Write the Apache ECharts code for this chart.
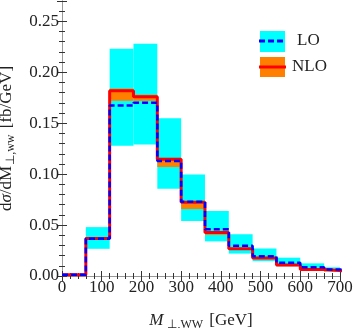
<!DOCTYPE html>
<html>
<head>
<meta charset="utf-8">
<script src="https://cdn.jsdelivr.net/npm/echarts@6/dist/echarts.min.js"></script>
<style>
  html, body { margin: 0; padding: 0; background: #fff; }
  #chart { width: 354px; height: 328px; }
</style>
</head>
<body>
<div id="chart"></div>
<script>
// bin edges (GeV), last bin clipped at 700
var binEdges = [0, 60, 120, 180, 240, 300, 360, 420, 480, 540, 600, 660, 720];
// LO central + scale band
var loCentral = [0.0012, 0.0365, 0.1675, 0.1700, 0.1130, 0.0730, 0.0460, 0.0296, 0.0195, 0.0130, 0.0085, 0.0065];
var loLow     = [0.0008, 0.0267, 0.1280, 0.1290, 0.0856, 0.0540, 0.0340, 0.0220, 0.0146, 0.0095, 0.0062, 0.0045];
var loHigh    = [0.0018, 0.0480, 0.2230, 0.2280, 0.1550, 0.0996, 0.0638, 0.0410, 0.0270, 0.0180, 0.0124, 0.0085];
// NLO central + scale band
var nloCentral = [0.0012, 0.0368, 0.1820, 0.1760, 0.1146, 0.0723, 0.0427, 0.0267, 0.0176, 0.0107, 0.0065, 0.0046];
var nloLow     = [0.0008, 0.0355, 0.1720, 0.1720, 0.1070, 0.0657, 0.0405, 0.0255, 0.0168, 0.0102, 0.0060, 0.0042];
var nloHigh    = [0.0015, 0.0375, 0.1840, 0.1780, 0.1160, 0.0735, 0.0435, 0.0272, 0.0180, 0.0110, 0.0068, 0.0049];

var yTicks = ['0.00', '0.05', '0.10', '0.15', '0.20', '0.25'];

function bandData(lo, hi) {
  var out = [];
  for (var i = 0; i < lo.length; i++) {
    out.push([binEdges[i], binEdges[i + 1], lo[i], hi[i]]);
  }
  return out;
}
function stepData(vals) {
  var out = [];
  for (var i = 0; i < vals.length; i++) out.push([binEdges[i], vals[i]]);
  out.push([binEdges[vals.length], vals[vals.length - 1]]);
  return out;
}
function bandSeries(name, color, lo, hi) {
  return {
    name: name,
    type: 'custom',
    clip: true,
    silent: true,
    data: bandData(lo, hi),
    renderItem: function (params, api) {
      var p0 = api.coord([api.value(0), api.value(3)]);
      var p1 = api.coord([api.value(1), api.value(2)]);
      return {
        type: 'rect',
        shape: { x: p0[0], y: p0[1], width: p1[0] - p0[0], height: p1[1] - p0[1] },
        style: { fill: color }
      };
    }
  };
}

var font = 'Liberation Serif';
var tickColor = '#333';
var frameColor = '#999';

var chart = echarts.init(document.getElementById('chart'));
chart.setOption({
  animation: false,
  grid: { left: 62, right: 14, top: 1, bottom: 52, containLabel: false, outerBoundsMode: 'none' },
  xAxis: [{
    type: 'value', min: 0, max: 700, interval: 100,
    name: '{i|M}{s|⊥,WW} [GeV]',
    nameLocation: 'middle', nameGap: 35,
    nameTextStyle: {
      fontFamily: font, fontSize: 17, color: '#222',
      rich: {
        i: { fontFamily: font, fontSize: 17, fontStyle: 'italic', color: '#222' },
        s: { fontFamily: font, fontSize: 12, color: '#222', padding: [8, 2, 0, 4] }
      }
    },
    axisLine: { show: true, lineStyle: { color: frameColor, width: 1 } },
    axisTick: { show: true, inside: true, length: 5, lineStyle: { color: tickColor } },
    minorTick: { show: true, splitNumber: 5, length: 3, lineStyle: { color: tickColor } },
    splitLine: { show: false },
    axisLabel: { fontFamily: font, fontSize: 17, color: '#222', margin: 3 }
  }, {
    type: 'value', min: 0, max: 700, interval: 100, position: 'top',
    axisLine: { show: true, lineStyle: { color: frameColor, width: 1 } },
    axisTick: { show: true, inside: true, length: 5, lineStyle: { color: tickColor } },
    minorTick: { show: true, splitNumber: 5, length: 3, lineStyle: { color: tickColor } },
    splitLine: { show: false },
    axisLabel: { show: false }
  }],
  yAxis: [{
    type: 'value', min: 0, max: 0.27, interval: 0.05,
    name: 'd{i|σ}/dM{s|⊥,ww} [fb/GeV]',
    nameLocation: 'middle', nameGap: 45, nameRotate: 90,
    nameTextStyle: {
      fontFamily: font, fontSize: 17, color: '#222',
      rich: {
        i: { fontFamily: font, fontSize: 17, fontStyle: 'italic', color: '#222' },
        s: { fontFamily: font, fontSize: 12, color: '#222', padding: [8, 2, 0, 1] }
      }
    },
    axisLine: { show: true, lineStyle: { color: frameColor, width: 1 } },
    axisTick: { show: true, inside: true, length: 5, lineStyle: { color: tickColor } },
    minorTick: { show: true, splitNumber: 5, length: 3, lineStyle: { color: tickColor } },
    splitLine: { show: false },
    axisLabel: {
      fontFamily: font, fontSize: 17, color: '#222', margin: 3,
      formatter: function (v) {
        var idx = Math.round(v / 0.05);
        return Math.abs(v - idx * 0.05) < 1e-9 ? yTicks[idx] : '';
      }
    }
  }, {
    type: 'value', min: 0, max: 0.27, interval: 0.05, position: 'right',
    axisLine: { show: true, lineStyle: { color: frameColor, width: 1 } },
    axisTick: { show: true, inside: true, length: 5, lineStyle: { color: tickColor } },
    minorTick: { show: true, splitNumber: 5, length: 3, lineStyle: { color: tickColor } },
    splitLine: { show: false },
    axisLabel: { show: false }
  }],
  series: [
    bandSeries('LO band', '#00ffff', loLow, loHigh),
    bandSeries('NLO band', '#ff8000', nloLow, nloHigh),
    {
      name: 'NLO', type: 'line', step: 'end', data: stepData(nloCentral),
      symbol: 'none', clip: true, silent: true,
      lineStyle: { color: '#ff0000', width: 3 }
    },
    {
      name: 'LO', type: 'line', step: 'end', data: stepData(loCentral),
      symbol: 'none', clip: true, silent: true,
      lineStyle: { color: '#0000ff', width: 2.5, type: [6, 3] }
    }
  ],
  graphic: [
    { type: 'rect', shape: { x: 260, y: 31, width: 25, height: 21 }, style: { fill: '#00ffff' } },
    { type: 'line', shape: { x1: 259, y1: 41, x2: 286, y2: 41 }, style: { stroke: '#0000ff', lineWidth: 3, lineDash: [6, 3] } },
    { type: 'text', x: 297, y: 41, style: { text: 'LO', font: '17px "Liberation Serif"', fill: '#222', verticalAlign: 'middle' } },
    { type: 'rect', shape: { x: 260, y: 57, width: 25, height: 20 }, style: { fill: '#ff8000' } },
    { type: 'line', shape: { x1: 259, y1: 67, x2: 286, y2: 67 }, style: { stroke: '#ff0000', lineWidth: 3 } },
    { type: 'text', x: 292, y: 67, style: { text: 'NLO', font: '17px "Liberation Serif"', fill: '#222', verticalAlign: 'middle' } }
  ]
});
</script>
</body>
</html>
